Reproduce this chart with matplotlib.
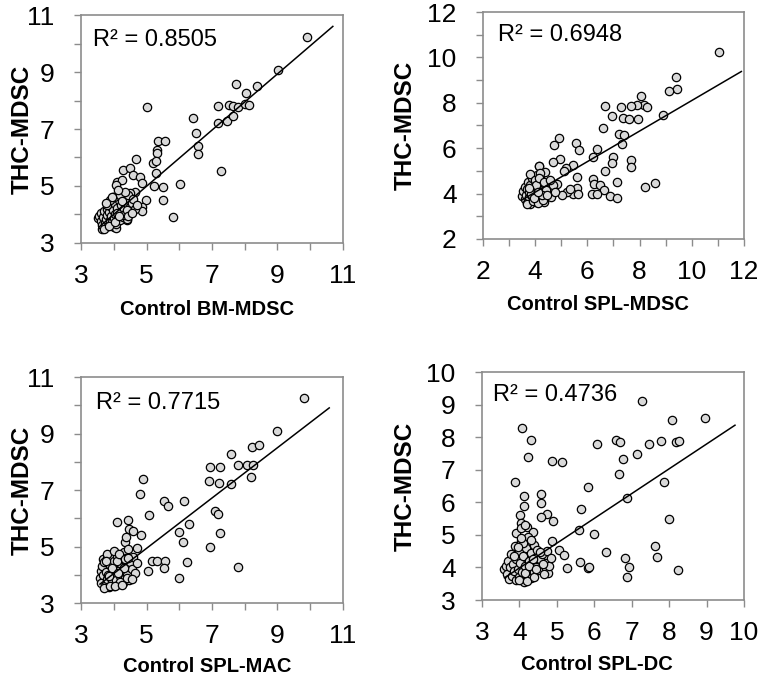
import matplotlib
matplotlib.use("Agg")
import matplotlib.pyplot as plt
from matplotlib.ticker import MultipleLocator
import numpy as np

plt.rcParams["font.family"] = ["Liberation Sans", "DejaVu Sans"]

# ---- panel A: Control BM-MDSC vs THC-MDSC ----
bm_x = [9.89, 9.03, 7.73, 8.38, 8.04, 7.17, 7.53, 7.63, 7.80, 8.01, 8.14, 5.03, 6.41, 7.19, 7.45,
        7.65, 6.50, 5.36, 5.56, 6.58, 6.58, 5.31, 5.33, 4.68, 5.21, 5.28, 5.29, 7.28, 4.29, 4.50,
        4.58, 4.80, 4.09, 4.24, 4.07, 4.85, 5.23, 5.51, 6.02, 5.51, 5.82, 4.98, 4.65, 4.50, 3.97,
        4.85, 4.85, 3.63, 3.53, 4.00, 4.07, 4.39,
        3.55, 3.60, 3.62, 3.65, 3.68, 3.70, 3.72, 3.75, 3.78, 3.80, 3.82, 3.85, 3.88, 3.90, 3.92,
        3.95, 3.98, 4.00, 4.02, 4.05, 4.08, 4.10, 4.12, 4.15, 4.18, 4.20, 4.22, 4.25, 4.28, 4.30,
        4.32, 4.35, 4.38, 4.40, 4.42, 4.45, 4.48, 4.50, 4.55, 4.60, 4.65, 4.70, 3.70, 3.80, 3.90,
        4.00, 4.10, 4.20, 4.30, 4.40, 3.85, 3.95, 4.05, 4.15, 4.25, 4.35, 3.75, 4.45, 4.55, 4.12]
bm_y = [10.22, 9.07, 8.57, 8.51, 8.25, 7.82, 7.84, 7.81, 7.76, 7.88, 7.83, 7.78, 7.37, 7.22, 7.29,
        7.46, 6.85, 6.59, 6.59, 6.42, 6.12, 6.26, 6.15, 5.95, 5.80, 5.89, 5.47, 5.51, 5.56, 5.62,
        5.39, 5.33, 5.15, 5.21, 5.04, 5.12, 5.00, 4.98, 5.06, 4.51, 3.90, 4.51, 4.80, 4.74, 4.63,
        4.27, 4.13, 3.48, 3.87, 3.57, 3.51, 3.81,
        3.95, 3.78, 4.05, 3.62, 3.90, 4.12, 3.70, 3.85, 4.20, 3.98, 3.60, 4.10, 3.82, 4.30, 3.95,
        3.72, 4.15, 3.88, 4.40, 4.00, 3.65, 4.22, 3.92, 4.50, 4.05, 3.80, 4.35, 4.12, 3.90, 4.60,
        4.20, 4.02, 4.45, 3.85, 4.30, 4.70, 4.10, 4.25, 4.40, 4.55, 4.20, 4.35, 3.50, 4.35, 4.50,
        4.60, 4.05, 4.70, 3.98, 4.15, 3.58, 4.62, 3.75, 3.95, 4.48, 4.80, 4.42, 3.95, 4.05, 4.85]

# ---- panel B: Control SPL-MDSC vs THC-MDSC ----
splm_x = [11.05, 9.39, 9.42, 9.11, 8.07, 8.17, 7.91, 7.66, 8.30, 6.67, 7.29, 8.88, 6.93, 7.38, 7.58,
          7.94, 6.61, 7.20, 7.40, 7.31, 4.90, 4.71, 5.55, 5.69, 6.36, 6.20, 6.99, 4.95, 4.69, 4.15,
          5.46, 5.18, 5.10, 6.93, 7.68, 7.68, 6.67, 5.59, 6.20, 6.25, 7.12, 6.48, 6.64, 6.16, 6.38,
          6.87, 7.15, 8.22, 8.58, 5.61, 5.46, 5.65, 5.21, 5.01, 5.33, 4.57, 4.82,
          3.50, 3.55, 3.60, 3.62, 3.65, 3.68, 3.70, 3.72, 3.75, 3.78, 3.80, 3.82, 3.85, 3.88, 3.90,
          3.92, 3.95, 3.98, 4.00, 4.02, 4.05, 4.08, 4.10, 4.12, 4.15, 4.18, 4.20, 4.22, 4.25, 4.28,
          4.30, 4.32, 4.35, 4.38, 4.40, 4.45, 4.50, 4.55, 4.60, 4.65, 4.70, 4.75, 3.70, 3.80, 3.90,
          4.00, 4.10, 4.20, 4.30, 4.40, 3.85, 3.95, 4.05, 4.15, 4.25, 4.35, 3.75, 4.45, 4.55, 4.12]
splm_y = [10.25, 9.12, 8.59, 8.53, 8.30, 7.90, 7.89, 7.86, 7.80, 7.87, 7.80, 7.48, 7.40, 7.35, 7.29,
          7.27, 6.89, 6.63, 6.60, 6.19, 6.46, 6.14, 6.24, 5.92, 5.98, 5.63, 5.63, 5.54, 5.41, 5.23,
          5.26, 5.11, 5.01, 5.33, 5.48, 5.16, 4.98, 4.75, 4.66, 4.42, 4.50, 4.36, 4.16, 3.97, 3.97,
          3.89, 3.82, 4.31, 4.45, 4.23, 3.97, 3.98, 4.09, 3.94, 4.19, 4.31, 4.41,
          3.90, 4.10, 3.75, 4.30, 3.95, 3.60, 4.20, 4.50, 3.85, 4.05, 3.55, 4.40, 3.92, 4.70, 4.15,
          3.70, 4.00, 4.55, 3.82, 4.25, 3.62, 4.80, 4.10, 3.90, 5.20, 4.35, 3.75, 4.60, 4.05, 3.88,
          4.45, 3.65, 4.20, 4.95, 3.98, 4.30, 4.10, 4.55, 3.85, 4.25, 4.40, 4.05, 3.52, 4.85, 3.68,
          4.62, 3.58, 4.90, 3.72, 4.15, 4.00, 3.80, 4.38, 4.68, 3.95, 4.50, 4.25, 3.92, 4.60, 4.05]

# ---- panel C: Control SPL-MAC vs THC-MDSC ----
mac_x = [9.81, 8.97, 8.22, 8.42, 7.59, 7.79, 8.06, 8.24, 8.18, 6.94, 7.24, 6.91, 7.20, 7.59, 4.90,
         4.80, 5.53, 5.67, 6.16, 7.09, 7.19, 5.09, 4.11, 4.42, 4.47, 4.60, 4.84, 6.30, 5.99, 7.24,
         6.10, 6.94, 4.34, 4.37, 4.70, 5.16, 5.33, 5.56, 5.53, 6.23, 5.05, 5.99, 7.78, 3.68,
         3.58, 3.60, 3.62, 3.65, 3.68, 3.70, 3.72, 3.75, 3.78, 3.80, 3.82, 3.85, 3.88, 3.90, 3.92,
         3.95, 3.98, 4.00, 4.02, 4.05, 4.08, 4.10, 4.12, 4.15, 4.18, 4.20, 4.22, 4.25, 4.28, 4.30,
         4.32, 4.35, 4.38, 4.40, 4.42, 4.45, 4.48, 4.50, 4.55, 4.60, 4.65, 4.70, 3.70, 3.80, 3.90,
         4.00, 4.10, 4.20, 4.30, 4.40, 3.85, 3.95, 4.05, 4.15, 4.25, 4.35, 3.75, 4.45, 4.55, 4.12]
mac_y = [10.24, 9.10, 8.53, 8.58, 8.27, 7.90, 7.90, 7.87, 7.47, 7.80, 7.83, 7.32, 7.26, 7.21, 7.38,
         6.86, 6.60, 6.43, 6.60, 6.24, 6.16, 6.12, 5.88, 5.94, 5.61, 5.56, 5.41, 5.78, 5.50, 5.47,
         5.15, 4.99, 5.17, 5.35, 4.94, 4.50, 4.50, 4.50, 4.25, 4.44, 4.13, 3.87, 4.27, 4.55,
         3.90, 4.15, 3.72, 4.30, 3.98, 4.45, 3.60, 4.10, 3.85, 4.60, 4.00, 3.55, 4.35, 3.92, 4.70,
         3.75, 4.20, 3.62, 4.50, 4.05, 3.80, 4.65, 4.15, 3.68, 4.40, 3.95, 4.55, 4.10, 3.70, 4.80,
         4.25, 3.88, 4.60, 4.00, 4.35, 4.90, 3.82, 4.45, 4.20, 4.62, 4.05, 4.40, 3.52, 4.72, 3.62,
         4.85, 4.50, 3.75, 4.25, 3.90, 3.95, 4.25, 3.60, 4.75, 3.65, 4.55, 4.50, 4.60, 3.85, 4.05]

# ---- panel D: Control SPL-DC vs THC-MDSC ----
dc_x = [7.27, 8.96, 8.09, 4.06, 4.30, 4.24, 4.87, 5.13, 6.08, 6.57, 6.69, 7.47, 7.77, 8.19, 8.26,
        7.14, 6.76, 6.67, 7.85, 3.88, 4.12, 4.11, 4.59, 4.59, 5.82, 6.87, 5.64, 4.75, 4.91, 4.59,
        8.00, 5.60, 6.00, 4.02, 4.03, 4.19, 4.37, 4.87, 5.07, 5.18, 5.26, 5.62, 5.82, 5.87, 6.32,
        6.81, 6.94, 6.87, 7.63, 7.67, 8.25, 4.77,
        3.60, 3.65, 3.68, 3.70, 3.72, 3.75, 3.78, 3.80, 3.82, 3.85, 3.88, 3.90, 3.92, 3.95, 3.98,
        4.00, 4.02, 4.05, 4.08, 4.10, 4.12, 4.15, 4.18, 4.20, 4.22, 4.25, 4.28, 4.30, 4.32, 4.35,
        4.38, 4.40, 4.42, 4.45, 4.48, 4.50, 4.55, 4.60, 4.65, 4.70, 4.75, 4.80, 3.90, 4.00, 4.10,
        4.20, 4.30, 4.40, 3.85, 3.95, 4.05, 4.15, 4.25, 4.35, 4.45, 4.55, 4.62, 4.85, 4.05, 4.15]
dc_y = [9.10, 8.59, 8.54, 8.29, 7.91, 7.40, 7.28, 7.24, 7.79, 7.91, 7.85, 7.79, 7.87, 7.85, 7.87,
        7.48, 7.34, 6.87, 6.62, 6.61, 6.19, 5.90, 6.25, 5.99, 6.46, 6.14, 5.79, 5.64, 5.43, 5.54,
        5.48, 5.15, 5.02, 5.61, 5.35, 5.25, 5.10, 4.82, 4.55, 4.38, 3.97, 4.18, 3.97, 4.02, 4.46,
        4.28, 4.00, 3.72, 4.66, 4.31, 3.92, 3.84,
        3.95, 4.05, 3.80, 4.20, 3.65, 4.00, 4.40, 3.75, 4.10, 3.88, 4.65, 3.60, 4.25, 3.95, 4.50,
        3.70, 4.15, 4.80, 3.85, 4.35, 3.55, 4.05, 4.60, 3.78, 4.95, 4.20, 3.90, 4.45, 3.68, 4.10,
        4.70, 3.85, 4.30, 4.00, 4.55, 3.92, 4.25, 4.40, 3.80, 4.15, 4.50, 4.05, 5.05, 3.62, 4.75,
        3.58, 4.85, 3.72, 4.35, 4.62, 5.20, 3.82, 4.05, 4.25, 3.95, 4.48, 4.10, 4.30, 4.90, 5.30]

# trendline slope / intercept and R^2
fit_slope = [0.986, 0.673, 0.891, 0.761]
fit_icpt = [0.06, 1.37, 0.48, 0.94]
fit_x = [(3.55, 10.69), (3.5, 11.9), (3.58, 10.58), (3.6, 9.76)]
r2_text = ["R² = 0.8505", "R² = 0.6948", "R² = 0.7715", "R² = 0.4736"]
x_titles = ["Control BM-MDSC", "Control SPL-MDSC", "Control SPL-MAC", "Control SPL-DC"]
axis_lims = [(3, 11), (2, 12), (3, 11), (3, 10)]
tick_vals = [[3, 5, 7, 9, 11], [2, 4, 6, 8, 10, 12], [3, 5, 7, 9, 11], [3, 4, 5, 6, 7, 8, 9, 10]]

data = [(bm_x, bm_y), (splm_x, splm_y), (mac_x, mac_y), (dc_x, dc_y)]
rects = [
    (0.1066, 0.6437, 0.3447, 0.3343),
    (0.6355, 0.6496, 0.3434, 0.3328),
    (0.1066, 0.1158, 0.3447, 0.3314),
    (0.6342, 0.1202, 0.3447, 0.3343),
]
ylabel_x = [-0.18, -0.253, -0.18, -0.248]
xlabel_pos = [(0.48, -0.25), (0.44, -0.245), (0.48, -0.24), (0.44, -0.24)]
r2_pos = [(0.046, 0.89), (0.057, 0.90), (0.057, 0.885), (0.042, 0.90)]

SPINE = "#8c8c8c"

fig = plt.figure(figsize=(7.6, 6.82), dpi=100)

for i, (xs, ys) in enumerate(data):
    ax = fig.add_axes(rects[i])
    ax.scatter(xs, ys, s=36, facecolor="#d9d9d9", edgecolor="black", linewidth=0.9, zorder=3)
    lx = np.array(fit_x[i])
    ax.plot(lx, fit_slope[i] * lx + fit_icpt[i], color="black", linewidth=1.1, zorder=4)

    ax.set_xlim(*axis_lims[i])
    ax.set_ylim(*axis_lims[i])
    ax.set_xticks(tick_vals[i])
    ax.set_yticks(tick_vals[i])
    ax.xaxis.set_minor_locator(MultipleLocator(1))
    ax.yaxis.set_minor_locator(MultipleLocator(1))
    ax.tick_params(which="both", direction="out", color=SPINE, width=1.0, length=5)
    ax.tick_params(axis="x", which="major", labelsize=19, pad=10)
    ax.tick_params(axis="y", which="major", labelsize=19, pad=14)
    for sp in ax.spines.values():
        sp.set_color(SPINE)
        sp.set_linewidth(1.2)

    ax.set_ylabel("THC-MDSC", fontsize=17.5, fontweight="bold")
    ax.yaxis.set_label_coords(ylabel_x[i], 0.5)
    ax.set_xlabel(x_titles[i], fontsize=14.5, fontweight="bold")
    ax.xaxis.set_label_coords(*xlabel_pos[i])

    ax.text(r2_pos[i][0], r2_pos[i][1], r2_text[i], transform=ax.transAxes,
            fontsize=17, ha="left", va="center")

fig.savefig("out.png", dpi=100)
